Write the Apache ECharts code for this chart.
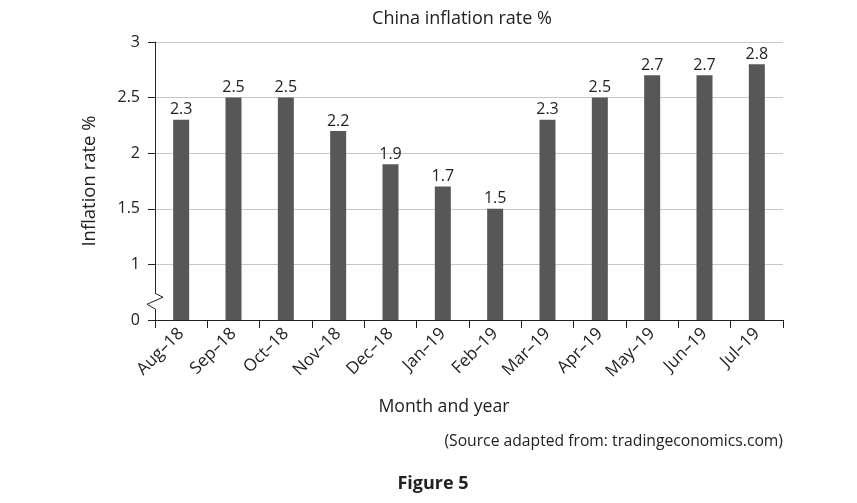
<!DOCTYPE html>
<html>
<head>
<meta charset="utf-8">
<script src="https://cdn.jsdelivr.net/npm/echarts@6/dist/echarts.min.js"></script>
<style>
html,body{margin:0;padding:0;background:#fff;}
#chart{width:857px;height:503px;}
</style>
</head>
<body>
<div id="chart"></div>
<script>
var categories = ['Aug–18','Sep–18','Oct–18','Nov–18','Dec–18','Jan–19','Feb–19','Mar–19','Apr–19','May–19','Jun–19','Jul–19'];
var inflation = [2.3, 2.5, 2.5, 2.2, 1.9, 1.7, 1.5, 2.3, 2.5, 2.7, 2.7, 2.8];
var yTicks = [0.5, 1, 1.5, 2, 2.5, 3];
var yTickLabels = ['0', '1', '1.5', '2', '2.5', '3'];

var FONT = 'Open Sans';
var chart = echarts.init(document.getElementById('chart'));
var option = {
  animation: false,
  backgroundColor: '#fff',
  textStyle: {fontFamily: FONT},
  title: [
    {text: 'China inflation rate %', left: 457, textAlign: 'center', top: 5,
     textStyle: {fontFamily: FONT, fontSize: 18, fontWeight: 'normal', color: '#222'}},
    {text: '(Source adapted from: tradingeconomics.com)', right: 69, top: 429,
     textStyle: {fontFamily: FONT, fontSize: 15.7, fontWeight: 'normal', color: '#222'}},
    {text: 'Figure 5', left: 428, textAlign: 'center', top: 470,
     textStyle: {fontFamily: FONT, fontSize: 18, fontWeight: 'bold', color: '#222'}}
  ],
  grid: {left: 155, right: 74, top: 42, bottom: 183},
  xAxis: {
    type: 'category',
    data: categories,
    name: 'Month and year',
    nameLocation: 'middle',
    nameGap: 78,
    nameTextStyle: {fontFamily: FONT, fontSize: 17.7, color: '#222', padding: [0, 50, 0, 0]},
    axisLine: {lineStyle: {color: '#222', width: 1}},
    axisTick: {show: true, alignWithLabel: false, length: 8, inside: false, lineStyle: {color: '#222'}},
    axisLabel: {rotate: 45, fontFamily: FONT, fontSize: 17, color: '#222', margin: 11, interval: 0}
  },
  yAxis: {
    type: 'value',
    min: 0.5, max: 3, interval: 0.5,
    name: 'Inflation rate %',
    nameLocation: 'middle',
    nameGap: 56,
    nameTextStyle: {fontFamily: FONT, fontSize: 18.5, color: '#222'},
    axisLine: {show: true, lineStyle: {color: '#222', width: 1}},
    axisTick: {show: true, length: 7, lineStyle: {color: '#222'}},
    axisLabel: {fontFamily: FONT, fontSize: 16, color: '#222', margin: 15,
      formatter: function (v) {
        var i = yTicks.indexOf(v);
        return i >= 0 ? yTickLabels[i] : '';
      }},
    splitLine: {show: true, lineStyle: {color: '#c8c8c8', width: 1}}
  },
  series: [{
    type: 'bar',
    data: inflation,
    barWidth: 16,
    itemStyle: {color: '#575757'},
    label: {show: true, position: 'top', distance: 2, fontFamily: FONT, fontSize: 16, color: '#222'}
  }]
};
chart.setOption(option);

// axis break symbol on the y axis
var c0 = chart.convertToPixel({xAxisIndex: 0}, 0);
var c1 = chart.convertToPixel({xAxisIndex: 0}, 1);
var ax = c0 - (c1 - c0) / 2;
var yA = chart.convertToPixel({yAxisIndex: 0}, 0.74);
var yB = chart.convertToPixel({yAxisIndex: 0}, 0.6);
var h = yB - yA;
chart.setOption({
  graphic: [
    {type: 'rect', shape: {x: ax - 2, y: yA, width: 4, height: h}, style: {fill: '#fff'}, z: 100},
    {type: 'polyline', shape: {points: [[ax, yA], [ax + 8, yA + h * 0.25], [ax - 8, yA + h * 0.7], [ax, yB]]},
     style: {stroke: '#222', lineWidth: 1, fill: null}, z: 101}
  ]
});
</script>
</body>
</html>
